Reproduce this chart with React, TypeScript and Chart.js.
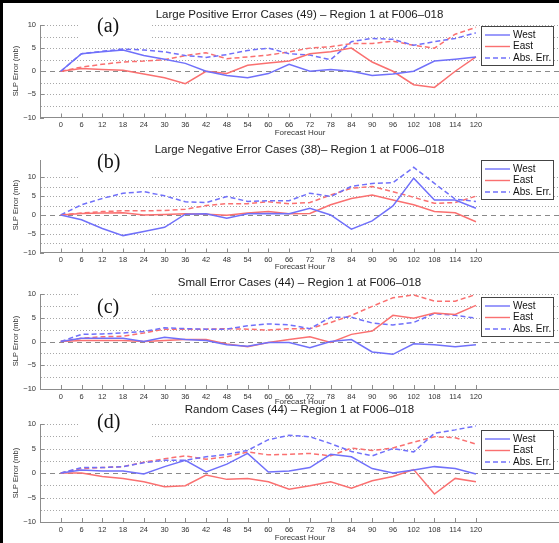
import React, { useEffect, useRef } from 'react';
import { Chart, registerables } from 'chart.js';
Chart.register(...registerables);

// ---------- data ----------
const xHours = [0, 6, 12, 18, 24, 30, 36, 42, 48, 54, 60, 66, 72, 78, 84, 90, 96, 102, 108, 114, 120];
const yTickValues = [-10, -5, 0, 5, 10];
const legendLabels = ['West', 'East', 'Abs. Err.'];

const westA = [0, 3.8, 4.2, 4.6, 3.4, 2.6, 1.7, 0, -0.9, -1.4, -0.5, 1.5, 0, 0.4, 0, -0.9, -0.6, 0, 2.2, 2.6, 3.1];
const eastA = [0, 0.6, 0.4, 0.2, -0.6, -1.4, -2.7, 0, -0.5, 1.3, 1.8, 2.2, 3.8, 4.2, 5.0, 2.0, 0, -2.9, -3.5, 0, 3.1];
const absWestA = [0, 3.8, 4.3, 4.8, 4.6, 4.2, 3.4, 3.0, 3.6, 4.5, 5.0, 3.8, 3.5, 2.5, 6.4, 7.1, 6.9, 5.6, 6.4, 7.1, 8.3];
const absEastA = [0, 0.9, 1.5, 2.0, 2.2, 2.5, 3.4, 4.0, 2.7, 3.1, 3.5, 4.2, 5.0, 5.3, 6.0, 6.0, 6.5, 5.6, 5.0, 8.0, 9.5];

const westB = [0, -1.3, -3.6, -5.5, -4.4, -3.3, 0.2, 0.3, -0.9, 0.3, 0.4, 0.3, 1.8, 0, -3.8, -1.6, 2.4, 9.8, 4.0, 4.0, 1.8];
const eastB = [0, 0.4, 0.5, 0.6, 0, 0.1, 0.3, 0.2, -0.1, 0.5, 0.9, 0.3, 0.4, 2.7, 4.4, 5.3, 4.0, 2.7, 0.9, 0.6, -1.8];
const absWestB = [0, 2.7, 4.4, 5.8, 6.2, 5.1, 3.5, 3.3, 4.9, 3.6, 3.8, 3.8, 5.8, 4.9, 7.6, 8.4, 8.6, 12.7, 8.4, 4.2, 3.6];
const absEastB = [0, 0.5, 0.9, 1.1, 1.1, 1.2, 1.5, 2.5, 3.0, 3.0, 3.5, 3.0, 3.3, 5.3, 7.1, 7.6, 6.2, 4.7, 3.1, 3.3, 5.0];

const westC = [0, 0.7, 0.7, 0.7, 0, 0.9, 0.4, 0.2, -0.7, -1.0, -0.2, -0.2, -1.3, 0, 0.4, -2.2, -2.7, -0.5, -0.7, -1.1, -0.7];
const eastC = [0, 0.2, 0.2, 0.2, 0, 0.2, 0.4, 0.4, -0.5, -1.1, -0.2, 0.4, 1.0, -0.2, 1.5, 2.2, 5.5, 4.9, 6.0, 5.7, 7.6];
const absWestC = [0, 1.5, 1.6, 1.8, 2.1, 2.9, 2.7, 2.6, 2.6, 3.3, 3.7, 3.5, 2.7, 5.1, 5.1, 3.9, 3.5, 4.0, 5.9, 5.5, 4.9];
const absEastC = [0, 0.7, 1.0, 1.1, 1.8, 2.6, 2.6, 2.6, 2.7, 2.6, 2.4, 2.7, 2.7, 4.0, 5.5, 7.4, 9.2, 9.8, 8.5, 8.5, 9.9];

const westD = [0, 0.6, 0.4, 0.4, -0.2, 1.3, 2.6, 0.2, 1.8, 4.0, 0.2, 0.4, 1.1, 3.8, 3.3, 0.9, 0, 0.6, 1.3, 0.9, -0.2];
const eastD = [0, 0, -0.7, -1.1, -1.8, -2.8, -2.6, -0.4, -1.3, -1.1, -1.8, -3.3, -2.6, -1.8, -3.1, -1.6, -0.7, 0.7, -4.3, -1.1, -1.8];
const absWestD = [0, 1.1, 1.1, 1.3, 2.1, 2.6, 2.6, 3.3, 3.8, 4.6, 6.8, 7.7, 7.4, 6.0, 4.4, 3.5, 5.0, 4.3, 8.1, 8.8, 9.6];
const absEastD = [0, 0.9, 1.1, 1.3, 2.2, 2.9, 3.5, 2.8, 3.3, 4.3, 3.7, 3.8, 4.0, 3.5, 5.1, 4.6, 5.1, 6.3, 7.4, 7.2, 5.9];

// ---------- layout / style ----------
const SANS = "'Liberation Sans', Arial, Helvetica, sans-serif";
const SERIF = "'Liberation Serif', 'Times New Roman', serif";
const BLUE = 'rgb(112,112,250)';
const RED = 'rgb(250,112,112)';
const W = 559;

type Panel = {
  title: string; tag: string; yMax: number;
  west: number[]; east: number[]; absWest: number[]; absEast: number[];
  top: number; height: number; plotTop: number; plotBottom: number;
  titleY: number; xTitleY: number; tagY: number; boxTop: number; boxBottom: number; legendTop: number; yTitleY: number;
};

const PANELS: Panel[] = [
  { title: 'Large Positive Error Cases (49) \u2013 Region 1 at F006\u2013018', tag: '(a)', yMax: 10,
    west: westA, east: eastA, absWest: absWestA, absEast: absEastA,
    top: 0, height: 140, plotTop: 25, plotBottom: 117.5, titleY: 15, xTitleY: 133, tagY: 27, boxTop: 13, boxBottom: 42, legendTop: 26, yTitleY: 71 },
  { title: 'Large Negative Error Cases (38)\u2013 Region 1 at F006\u2013018', tag: '(b)', yMax: 14.5,
    west: westB, east: eastB, absWest: absWestB, absEast: absEastB,
    top: 136, height: 136, plotTop: 160.5, plotBottom: 252.5, titleY: 150, xTitleY: 267, tagY: 162.5, boxTop: 152, boxBottom: 181, legendTop: 160, yTitleY: 205 },
  { title: 'Small Error Cases (44) \u2013 Region 1 at F006\u2013018', tag: '(c)', yMax: 10,
    west: westC, east: eastC, absWest: absWestC, absEast: absEastC,
    top: 268, height: 140, plotTop: 294, plotBottom: 389, titleY: 283, xTitleY: 402, tagY: 307.5, boxTop: 289, boxBottom: 312, legendTop: 297, yTitleY: 341 },
  { title: 'Random Cases (44) \u2013 Region 1 at F006\u2013018', tag: '(d)', yMax: 10,
    west: westD, east: eastD, absWest: absWestD, absEast: absEastD,
    top: 400, height: 143, plotTop: 424, plotBottom: 522, titleY: 410, xTitleY: 538, tagY: 422.5, boxTop: 414, boxBottom: 441, legendTop: 430, yTitleY: 473 },
];

function makeDecor(p: Panel) {
  const oy = (y: number) => y - p.top;
  return {
    id: 'decor',
    beforeDatasetsDraw(chart: any) {
      const { ctx, chartArea: ca, scales } = chart;
      const ys = scales.y, xs = scales.x;
      ctx.save();
      ctx.lineWidth = 1;
      ctx.strokeStyle = '#a8a8a8';
      ctx.setLineDash([1, 2]);
      for (let v = -7.5; v <= Math.min(10, p.yMax) + 1e-9; v += 2.5) {
        if (Math.abs(v) < 1e-9) continue;
        const y = Math.round(ys.getPixelForValue(v)) + 0.5;
        ctx.beginPath(); ctx.moveTo(ca.left + 1, y); ctx.lineTo(ca.right, y); ctx.stroke();
      }
      ctx.strokeStyle = '#8a8a8a';
      ctx.setLineDash([5, 4]);
      const y0 = Math.round(ys.getPixelForValue(0)) + 0.5;
      ctx.beginPath(); ctx.moveTo(ca.left + 1, y0); ctx.lineTo(ca.right, y0); ctx.stroke();
      ctx.setLineDash([]);
      ctx.strokeStyle = '#8c8c8c';
      for (const h of xHours) {
        const x = Math.round(xs.getPixelForValue(h)) + 0.5;
        ctx.beginPath(); ctx.moveTo(x, ca.bottom); ctx.lineTo(x, ca.bottom - 4); ctx.stroke();
      }
      for (const v of yTickValues) {
        const y = Math.round(ys.getPixelForValue(v)) + 0.5;
        ctx.beginPath(); ctx.moveTo(ca.left, y); ctx.lineTo(ca.left + 4, y); ctx.stroke();
      }
      ctx.fillStyle = '#ffffff';
      ctx.fillRect(78, oy(p.boxTop), 73, p.boxBottom - p.boxTop);
      ctx.restore();
    },
    afterDatasetsDraw(chart: any) {
      const { ctx, chartArea: ca } = chart;
      ctx.save();
      const lt = oy(p.legendTop);
      ctx.fillStyle = '#ffffff';
      ctx.fillRect(481, lt, 73, 40);
      ctx.strokeStyle = '#444';
      ctx.lineWidth = 1;
      ctx.strokeRect(481.5, lt + 0.5, 72, 39);
      const styles = [
        { c: BLUE, d: [] as number[] },
        { c: RED, d: [] as number[] },
        { c: BLUE, d: [5, 3] },
      ];
      ctx.font = `10px ${SANS}`;
      ctx.textBaseline = 'middle';
      ctx.textAlign = 'left';
      legendLabels.forEach((lab, i) => {
        const y = lt + 9 + i * 11.5;
        ctx.strokeStyle = styles[i].c;
        ctx.lineWidth = 1.4;
        ctx.setLineDash(styles[i].d);
        ctx.beginPath(); ctx.moveTo(485, y); ctx.lineTo(510, y); ctx.stroke();
        ctx.setLineDash([]);
        ctx.fillStyle = '#111';
        ctx.fillText(lab, 513, y);
      });
      ctx.fillStyle = '#111';
      ctx.font = `20px ${SERIF}`;
      ctx.textBaseline = 'middle';
      ctx.fillText(p.tag, 97, oy(p.tagY));
      ctx.font = `11.5px ${SANS}`;
      ctx.textAlign = 'center';
      ctx.fillStyle = '#1a1a1a';
      ctx.fillText(p.title, (ca.left + ca.right) / 2, oy(p.titleY));
      ctx.font = `8px ${SANS}`;
      ctx.fillStyle = '#333';
      ctx.fillText('Forecast Hour', 300, oy(p.xTitleY));
      ctx.save();
      ctx.translate(15.5, oy(p.yTitleY));
      ctx.rotate(-Math.PI / 2);
      ctx.font = `7.5px ${SANS}`;
      ctx.fillText('SLP Error (mb)', 0, 0);
      ctx.restore();
      ctx.restore();
    },
  };
}

function PanelChart({ p }: { p: Panel }) {
  const ref = useRef<HTMLCanvasElement | null>(null);
  useEffect(() => {
    if (!ref.current) return;
    const pts = (arr: number[]) => xHours.map((h, i) => ({ x: h, y: arr[i] }));
    const base = { pointRadius: 0, borderWidth: 1.5, tension: 0, fill: false };
    const chart = new Chart(ref.current, {
      type: 'line',
      data: {
        datasets: [
          { ...base, label: 'West', data: pts(p.west), borderColor: BLUE },
          { ...base, label: 'East', data: pts(p.east), borderColor: RED },
          { ...base, label: 'West Abs. Err.', data: pts(p.absWest), borderColor: BLUE, borderDash: [5, 3] },
          { ...base, label: 'East Abs. Err.', data: pts(p.absEast), borderColor: RED, borderDash: [5, 3] },
        ],
      },
      options: {
        responsive: false,
        maintainAspectRatio: false,
        animation: false,
        events: [],
        layout: { padding: { top: p.plotTop - p.top, left: 0, right: 0, bottom: 0 } },
        plugins: { legend: { display: false }, title: { display: false }, tooltip: { enabled: false } },
        scales: {
          x: {
            type: 'linear', min: -6, max: 144, position: 'bottom',
            afterBuildTicks: (s: any) => { s.ticks = xHours.map((v) => ({ value: v })); },
            afterFit: (s: any) => { s.height = p.top + p.height - p.plotBottom; },
            ticks: { autoSkip: false, maxRotation: 0, padding: 3, color: '#333', font: { family: SANS, size: 7.5 },
              callback: (v: any) => String(v) },
            grid: { drawOnChartArea: false, drawTicks: false },
            border: { display: true, color: '#8c8c8c', width: 1 },
          },
          y: {
            type: 'linear', min: -10, max: p.yMax, position: 'left',
            afterBuildTicks: (s: any) => { s.ticks = yTickValues.map((v) => ({ value: v })); },
            afterFit: (s: any) => { s.width = 40; },
            ticks: { padding: 4, color: '#333', font: { family: SANS, size: 7.5 },
              callback: (v: any) => (v < 0 ? '\u2212' + Math.abs(v) : String(v)) },
            grid: { drawOnChartArea: false, drawTicks: false },
            border: { display: true, color: '#8c8c8c', width: 1 },
          },
        },
      } as any,
      plugins: [makeDecor(p)],
    });
    return () => chart.destroy();
  }, [p]);
  return (
    <canvas ref={ref} width={W} height={p.height}
      style={{ position: 'absolute', left: 0, top: p.top, width: W, height: p.height, display: 'block' }} />
  );
}

export default function App() {
  return (
    <div style={{ position: 'absolute', left: 0, top: 0, width: W, height: 543, background: '#fff', overflow: 'hidden' }}>
      {PANELS.map((p, i) => <PanelChart key={i} p={p} />)}
      <div style={{ position: 'absolute', left: 0, top: 0, width: W, height: 543, boxSizing: 'border-box',
        borderLeft: '3px solid #000', borderTop: '3px solid #000', pointerEvents: 'none' }} />
    </div>
  );
}
